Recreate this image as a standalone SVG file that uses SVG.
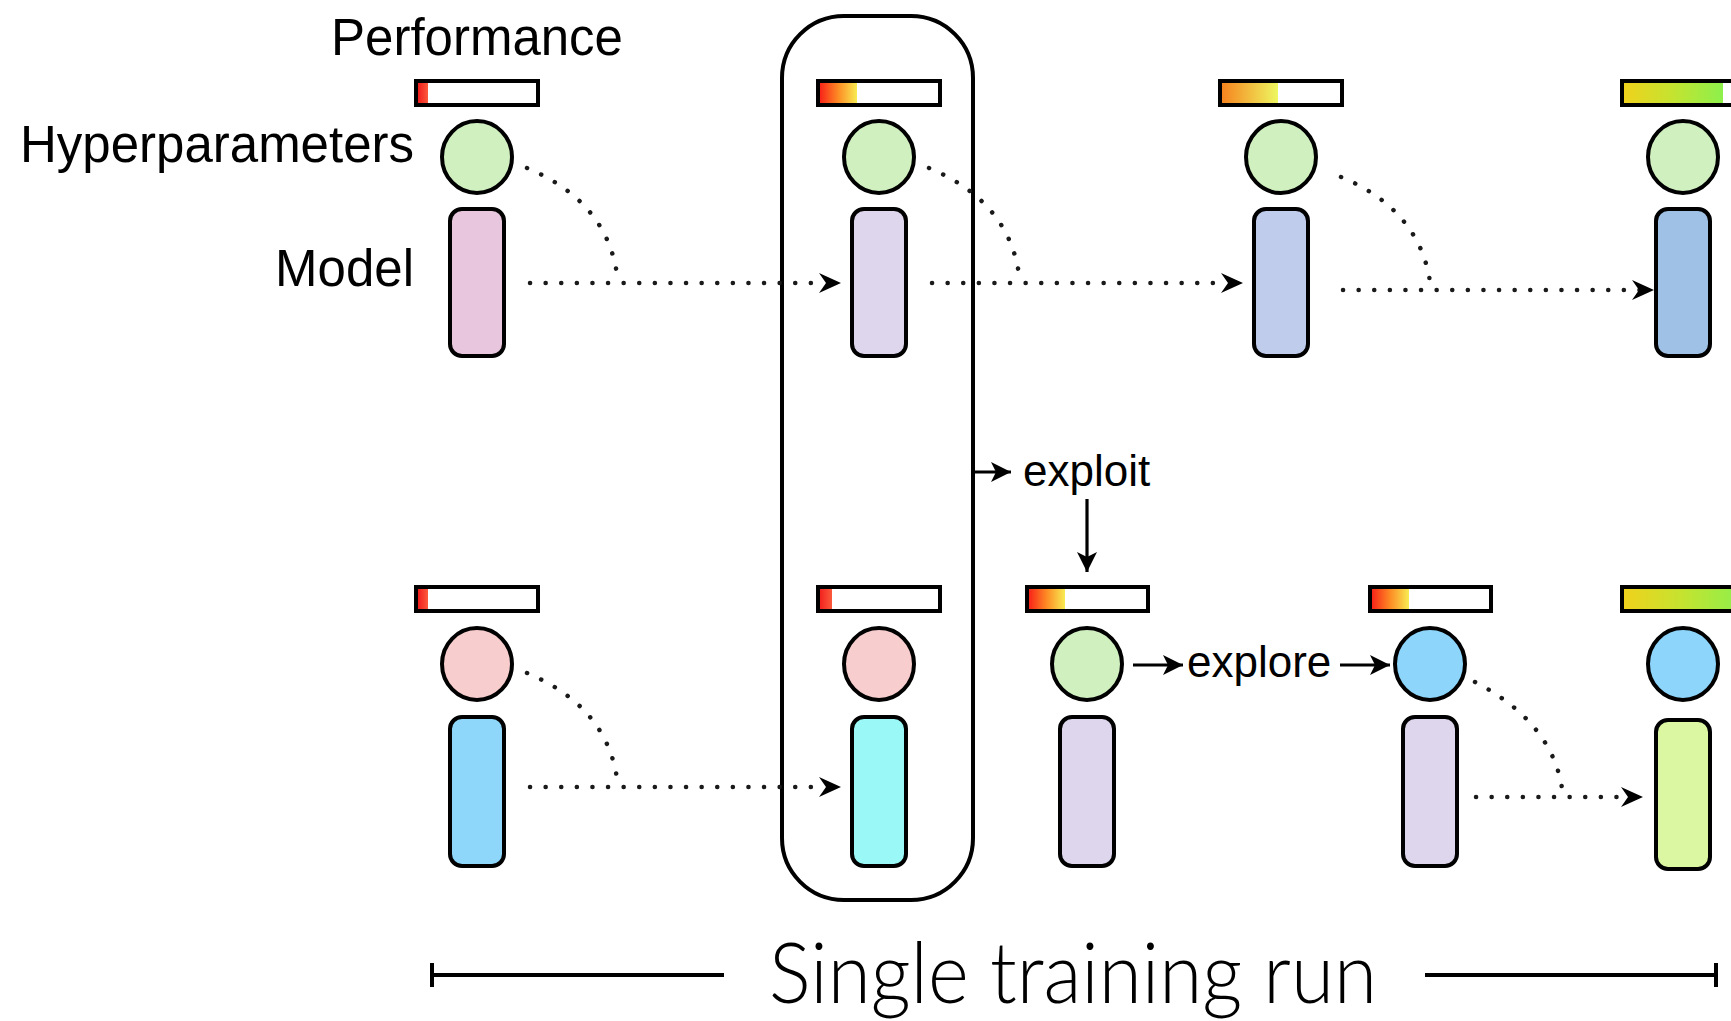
<svg xmlns="http://www.w3.org/2000/svg" width="1731" height="1021" viewBox="0 0 1731 1021">
<style>
.lbl{font-family:"Liberation Sans",Arial,sans-serif;fill:#000}
.hp{stroke:#000;stroke-width:4}
.md{stroke:#000;stroke-width:4}
.bar{fill:none;stroke:#000;stroke-width:4}
.dot{fill:none;stroke:#1a1a1a;stroke-width:4.5;stroke-linecap:round;stroke-dasharray:0.1 15.5}
.sol{fill:none;stroke:#000;stroke-width:3.2}
</style>
<defs>
<marker id="ah" markerUnits="userSpaceOnUse" viewBox="0 0 22 20" refX="22" refY="10" markerWidth="22" markerHeight="20" orient="auto"><path d="M0,0 L22,10 L0,20 L7,10 Z" fill="#000"/></marker>
<marker id="as" markerUnits="userSpaceOnUse" viewBox="0 0 20 20" refX="20" refY="10" markerWidth="20" markerHeight="20" orient="auto"><path d="M0,0 L20,10 L0,20 L5,10 Z" fill="#000"/></marker>
<linearGradient id="gRed" x1="0" x2="1"><stop offset="0" stop-color="#f21d1d"/><stop offset="1" stop-color="#fb5a3c"/></linearGradient>
<linearGradient id="gRY" x1="0" x2="1"><stop offset="0" stop-color="#f81e18"/><stop offset="0.5" stop-color="#fd8a24"/><stop offset="1" stop-color="#f8ec52"/></linearGradient>
<linearGradient id="gOY" x1="0" x2="1"><stop offset="0" stop-color="#f6821e"/><stop offset="1" stop-color="#eef760"/></linearGradient>
<linearGradient id="gYG" x1="0" x2="1"><stop offset="0" stop-color="#f0d21c"/><stop offset="0.5" stop-color="#c4e330"/><stop offset="1" stop-color="#8df04c"/></linearGradient>
</defs>
<rect width="1731" height="1021" fill="#fff"/>

<g id="labels">
<text class="lbl" x="477" y="55" font-size="51" text-anchor="middle">Performance</text>
<text class="lbl" x="414" y="162" font-size="51" text-anchor="end">Hyperparameters</text>
<text class="lbl" x="414" y="286" font-size="51" text-anchor="end">Model</text>
</g>

<g id="single-run-box"><rect x="782" y="16" width="191" height="884" rx="62" fill="none" stroke="#000" stroke-width="4"/></g>

<g id="connectors">
<path class="dot" d="M527,168 C565,184 612,215 618,283"/>
<path class="dot" d="M530,283 H826"/><path d="M826,283 H841" fill="none" marker-end="url(#ah)"/>
<path class="dot" d="M929,168 C967,184 1014,215 1020,283"/>
<path class="dot" d="M932,283 H1228"/><path d="M1228,283 H1243" fill="none" marker-end="url(#ah)"/>
<path class="dot" d="M1341,177 C1380,193 1425,225 1431,290"/>
<path class="dot" d="M1343,290 H1640"/><path d="M1640,290 H1654" fill="none" marker-end="url(#ah)"/>
<path class="dot" d="M527,673 C565,689 612,720 618,787"/>
<path class="dot" d="M530,787 H826"/><path d="M826,787 H841" fill="none" marker-end="url(#ah)"/>
<path class="dot" d="M1475,682 C1510,700 1558,735 1563,797"/>
<path class="dot" d="M1476,797 H1629"/><path d="M1629,797 H1643" fill="none" marker-end="url(#ah)"/>
<path class="sol" d="M974,472 H1011" marker-end="url(#as)"/>
<path class="sol" d="M1087,499 V572" marker-end="url(#as)"/>
<path class="sol" d="M1133,665 H1183" marker-end="url(#as)"/>
<path class="sol" d="M1340,665 H1390" marker-end="url(#as)"/>
<text class="lbl" x="1023" y="486" font-size="44">exploit</text>
<text class="lbl" x="1187" y="677" font-size="44">explore</text>
</g>

<g id="top-1">
<rect x="418" y="81" width="10" height="24" fill="url(#gRed)"/><rect class="bar" x="416" y="81" width="122" height="24"/>
<ellipse class="hp" cx="477" cy="157" rx="35" ry="36" fill="#d0f0c0"/>
<rect class="md" x="450" y="209" width="54" height="147" rx="12" fill="#e8c6dd"/>
</g>
<g id="top-2">
<rect x="819" y="81" width="38" height="24" fill="url(#gRY)"/><rect class="bar" x="818" y="81" width="122" height="24"/>
<ellipse class="hp" cx="879" cy="157" rx="35" ry="36" fill="#d0f0c0"/>
<rect class="md" x="852" y="209" width="54" height="147" rx="12" fill="#ddd6ec"/>
</g>
<g id="top-3">
<rect x="1221" y="81" width="57" height="24" fill="url(#gOY)"/><rect class="bar" x="1220" y="81" width="122" height="24"/>
<ellipse class="hp" cx="1281" cy="157" rx="35" ry="36" fill="#d0f0c0"/>
<rect class="md" x="1254" y="209" width="54" height="147" rx="12" fill="#c0ccec"/>
</g>
<g id="top-4">
<rect x="1623" y="81" width="100" height="24" fill="url(#gYG)"/><rect class="bar" x="1622" y="81" width="122" height="24"/>
<ellipse class="hp" cx="1683" cy="157" rx="35" ry="36" fill="#d0f0c0"/>
<rect class="md" x="1656" y="209" width="54" height="147" rx="12" fill="#9fc1e6"/>
</g>

<g id="bot-1">
<rect x="418" y="587" width="10" height="24" fill="url(#gRed)"/><rect class="bar" x="416" y="587" width="122" height="24"/>
<ellipse class="hp" cx="477" cy="664" rx="35" ry="36" fill="#f8cdcd"/>
<rect class="md" x="450" y="717" width="54" height="149" rx="12" fill="#8ed6fa"/>
</g>
<g id="bot-2">
<rect x="819" y="587" width="13" height="24" fill="url(#gRed)"/><rect class="bar" x="818" y="587" width="122" height="24"/>
<ellipse class="hp" cx="879" cy="664" rx="35" ry="36" fill="#f8cdcd"/>
<rect class="md" x="852" y="717" width="54" height="149" rx="12" fill="#9af8f6"/>
</g>
<g id="bot-3">
<rect x="1028" y="587" width="37" height="24" fill="url(#gRY)"/><rect class="bar" x="1027" y="587" width="121" height="24"/>
<ellipse class="hp" cx="1087" cy="664" rx="35" ry="36" fill="#d0f0c0"/>
<rect class="md" x="1060" y="717" width="54" height="149" rx="12" fill="#ddd6ec"/>
</g>
<g id="bot-4">
<rect x="1371" y="587" width="38" height="24" fill="url(#gRY)"/><rect class="bar" x="1370" y="587" width="121" height="24"/>
<ellipse class="hp" cx="1430" cy="664" rx="35" ry="36" fill="#8dd5fa"/>
<rect class="md" x="1403" y="717" width="54" height="149" rx="12" fill="#ddd6ec"/>
</g>
<g id="bot-5">
<rect x="1623" y="587" width="120" height="24" fill="url(#gYG)"/><rect class="bar" x="1622" y="587" width="122" height="24"/>
<ellipse class="hp" cx="1683" cy="664" rx="35" ry="36" fill="#8dd5fa"/>
<rect class="md" x="1656" y="720" width="54" height="149" rx="12" fill="#dbf7a1"/>
</g>

<g id="timeline">
<path d="M432,975 H724 M432,963 V987 M1425,975 H1716 M1716,963 V987" fill="none" stroke="#000" stroke-width="4"/>
<text x="769" y="1003" font-family="Lato,'Open Sans',sans-serif" font-weight="300" font-size="84" textLength="608" lengthAdjust="spacingAndGlyphs">Single training run</text>
</g>
</svg>
